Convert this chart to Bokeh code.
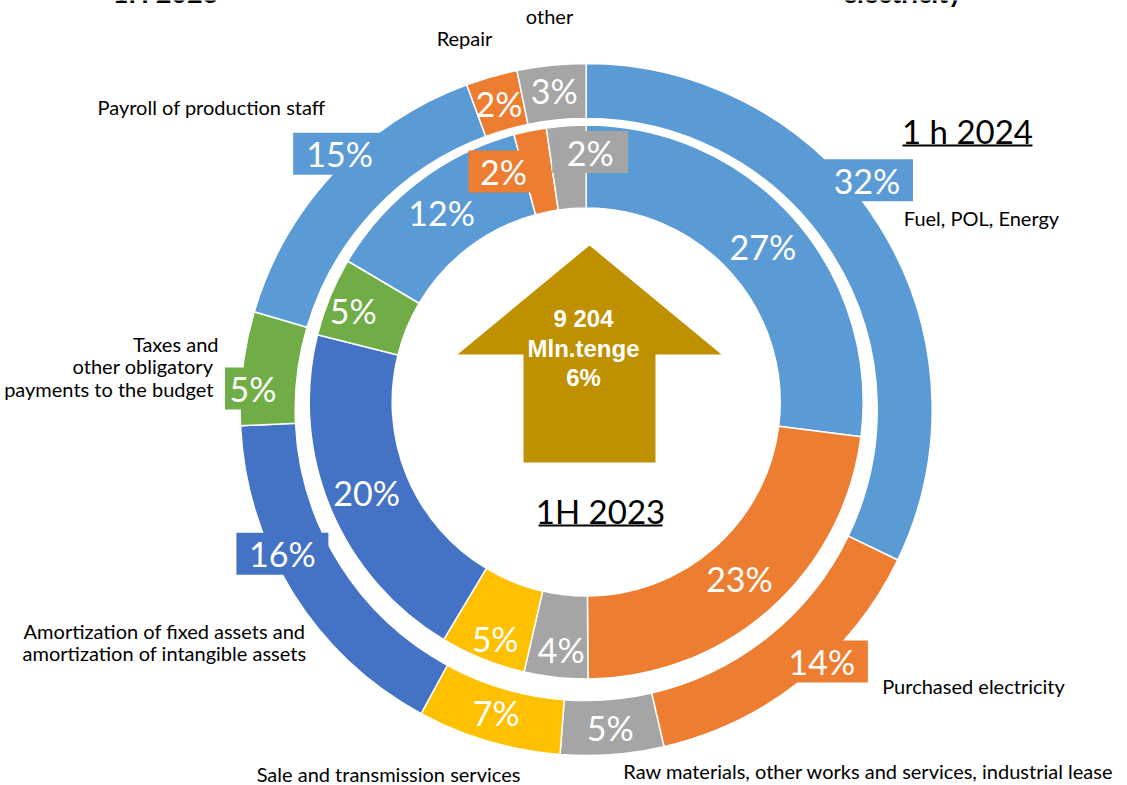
import math
from bokeh.plotting import figure
from bokeh.models import Range1d
from bokeh.core.properties import value
from bokeh.embed import file_html
from bokeh.resources import INLINE

# ---------------- data ----------------
categories = ["Fuel, POL, Energy", "Purchased electricity",
              "Raw materials, other works and services, industrial lease",
              "Sale and transmission services",
              "Amortization of fixed assets and amortization of intangible assets",
              "Taxes and other obligatory payments to the budget",
              "Payroll of production staff", "Repair", "other"]
values_2024 = [32.1, 14.2, 4.8, 6.7, 16.3, 5.3, 14.8, 2.4, 3.2]   # outer ring
values_2023 = [27.0, 22.9, 3.7, 5.0, 20.3, 4.6, 12.3, 1.9, 2.3]   # inner ring
colors = ["#5B9BD5", "#ED7D31", "#A5A5A5", "#FFC000", "#4472C4",
          "#70AD47", "#5B9BD5", "#ED7D31", "#A5A5A5"]
series_names = ["1 h 2024", "1H 2023"]
center_text = ["9 204", "Mln.tenge", "6%"]
clipped_titles = ["1H 2023", "electricity"]

# category label layout (lines, pixel anchor x, first line y, align)
cat_label_layout = [
    (["Fuel, POL, Energy"], 981, 217, "center"),
    (["Purchased electricity"], 973, 685, "center"),
    (["Raw materials, other works and services, industrial lease"], 868, 770, "center"),
    (["Sale and transmission services"], 388, 773, "center"),
    (["Amortization of fixed assets and", "amortization of intangible assets"], 164, 630, "center"),
    (["Taxes and", "other obligatory ", "payments to the budget "], 218, 343, "right"),
    (["Payroll of production staff"], 211, 106, "center"),
    (["Repair"], 464, 37, "center"),
    (["other"], 549, 15, "center"),
]

# ---------------- geometry (pixels) ----------------
W, H = 1127, 785
OUT_C = (585.7, 409.0); OUT_R = (291, 346)
IN_C = (585.7, 401.5); IN_R = (194, 277)
# offsets of dragged data labels (pixels, y down), boxed label widths
out_off = [(11, -60), (37, 3), (0, 0), (0, -3), (-34, -25), (-17, 17), (-14, -38), (0, 0), (0, -2)]
in_off = [(0, 0), (-3, 0), (1, 13), (-3, 18), (-2, 0), (-15, -2), (-2, -2), (-35, 0), (21, -15)]
out_box = {0: 92, 1: 92, 4: 92, 5: 56, 6: 93}
in_box = {7: 70, 8: 76}
BOX_H = 42

FONT = "Lato"

p = figure(width=W, height=H, output_backend="svg", toolbar_location=None,
           x_range=Range1d(0, W), y_range=Range1d(-H, 0),
           min_border=0, min_border_left=0, min_border_right=0,
           min_border_top=0, min_border_bottom=0)
p.axis.visible = False
p.grid.visible = False
p.outline_line_color = None
p.background_fill_color = "white"
p.border_fill_color = "white"


def ring(vals, c, r, offs, boxes):
    total = sum(vals)
    cum = 0.0
    starts, ends, mids = [], [], []
    for v in vals:
        f0 = cum / total
        cum += v
        f1 = cum / total
        starts.append(math.pi / 2 - 2 * math.pi * f0)
        ends.append(math.pi / 2 - 2 * math.pi * f1)
        mids.append((f0 + f1) / 2)
    p.annular_wedge(x=[c[0]] * len(vals), y=[-c[1]] * len(vals),
                    inner_radius=r[0], outer_radius=r[1],
                    start_angle=starts, end_angle=ends, direction="clock",
                    fill_color=colors, line_color="white", line_width=1.5)
    rm = (r[0] + r[1]) / 2
    lx, ly, lt = [], [], []
    for i, (v, m) in enumerate(zip(vals, mids)):
        a = 2 * math.pi * m
        x = c[0] + rm * math.sin(a) + offs[i][0]
        y = c[1] - rm * math.cos(a) + offs[i][1]
        lx.append(x); ly.append(-y)
        lt.append(f"{int(v / total * 100 + 0.5)}%")
        if i in boxes:
            p.rect(x=[x], y=[-y], width=boxes[i], height=BOX_H,
                   width_units="screen", height_units="screen",
                   fill_color=colors[i], line_color=None)
    return lx, ly, lt


ox, oy, ot = ring(values_2024, OUT_C, OUT_R, out_off, out_box)
ix, iy, it = ring(values_2023, IN_C, IN_R, in_off, in_box)
p.text(x=ox + ix, y=oy + iy, text=ot + it, text_color="white",
       text_font=value(FONT), text_font_size="34px",
       text_align="center", text_baseline="middle")

# category labels
for lines, ax, ay, al in cat_label_layout:
    for k, line in enumerate(lines):
        p.text(x=[ax], y=[-(ay + k * 22.5)], text=[line], text_color="#000000",
               text_font=value(FONT), text_font_size="20px",
               text_align=al, text_baseline="middle")

# central arrow
AX, TIP, HEAD, BOT, HW, SW = 589, 245, 354, 462, 132, 66
p.patch(x=[AX, AX + HW, AX + SW, AX + SW, AX - SW, AX - SW, AX - HW],
        y=[-TIP, -HEAD, -HEAD, -BOT, -BOT, -HEAD, -HEAD],
        fill_color="#BF9000", line_color=None)
for k, line in enumerate(center_text):
    p.text(x=[583], y=[-(318 + k * 29.5)], text=[line], text_color="white",
           text_font=value("Liberation Sans"), text_font_style="bold",
           text_font_size="24px", text_align="center", text_baseline="middle")

# series names, underlined
for name, cx, cy, half in [(series_names[0], 967, 130, 65), (series_names[1], 600, 510, 62)]:
    p.text(x=[cx], y=[-cy], text=[name], text_color="black",
           text_font=value(FONT), text_font_size="33px",
           text_align="center", text_baseline="middle")
    p.segment(x0=[cx - half], x1=[cx + half], y0=[-(cy + 15)], y1=[-(cy + 15)],
              line_color="black", line_width=2)

# titles cut off at the top edge (only their lower edge shows)
p.text(x=[165, 902], y=[8, 8], text=clipped_titles, text_color="black",
       text_font=value(FONT), text_font_style="bold", text_font_size="27px",
       text_align="center", text_baseline="middle")

open("out.html", "w").write(file_html(p, INLINE))
